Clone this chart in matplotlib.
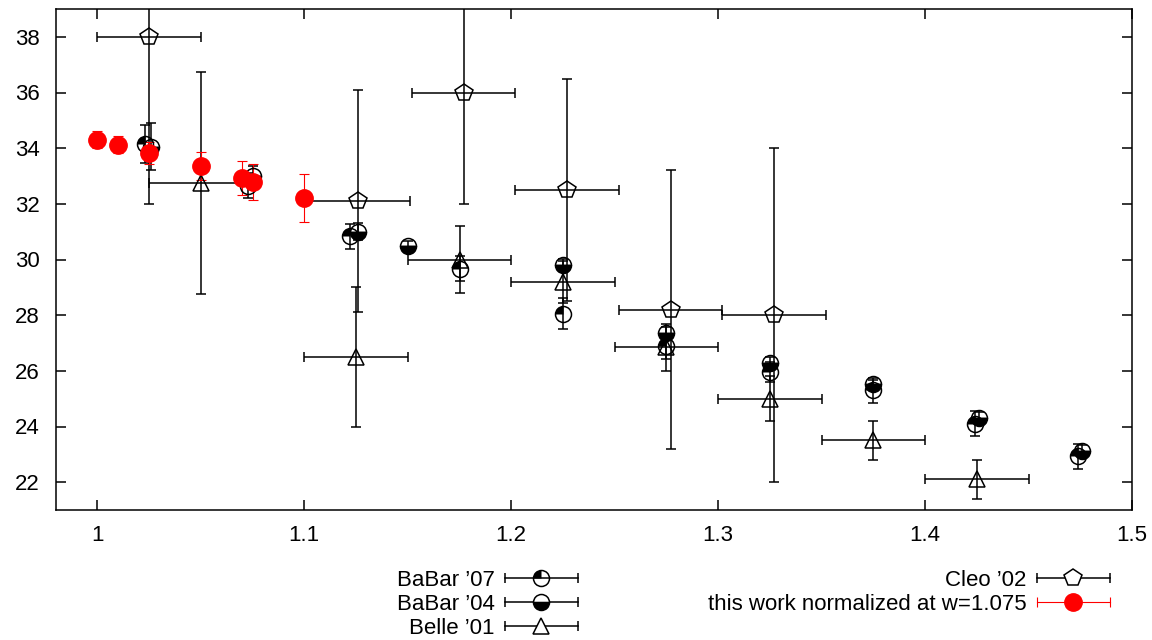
import matplotlib
matplotlib.use("Agg")
import matplotlib.pyplot as plt
from matplotlib.path import Path
from matplotlib.lines import Line2D
from matplotlib.legend_handler import HandlerLine2D

plt.rcParams['font.family'] = ['Liberation Sans', 'DejaVu Sans']

# BaBar '07
babar07_x = [1.023, 1.073, 1.122, 1.175, 1.225, 1.275, 1.325, 1.375, 1.424, 1.474]
babar07_y = [34.15, 32.65, 30.83, 29.67, 28.05, 26.88, 25.96, 25.3, 24.1, 22.93]
babar07_err = [0.7, 0.45, 0.45, 0.45, 0.55, 0.45, 0.35, 0.45, 0.45, 0.45]
# BaBar '04
babar04_x = [1.026, 1.075, 1.126, 1.15, 1.225, 1.275, 1.325, 1.375, 1.426, 1.476]
babar04_y = [34.05, 33.0, 31.0, 30.47, 29.81, 27.37, 26.28, 25.52, 24.32, 23.12]
babar04_err = [0.85, 0.35, 0.3, 0.2, 0.2, 0.2, 0.2, 0.15, 0.2, 0.2]
# Belle '01
belle_x = [1.05, 1.125, 1.175, 1.225, 1.275, 1.325, 1.375, 1.425]
belle_y = [32.75, 26.5, 30.0, 29.2, 26.85, 25.0, 23.5, 22.1]
belle_yerr = [4.0, 2.5, 1.2, 0.75, 0.85, 0.8, 0.7, 0.7]
belle_xerr = [0.025] * 8
# Cleo '02
cleo_x = [1.025, 1.126, 1.177, 1.227, 1.277, 1.327]
cleo_y = [38.0, 32.1, 36.0, 32.5, 28.2, 28.0]
cleo_yerr = [6.0, 4.0, 4.0, 4.0, 5.0, 6.0]
cleo_xerr = [0.025] * 6
# this work
work_x = [1.0, 1.01, 1.025, 1.05, 1.07, 1.075, 1.1]
work_y = [34.3, 34.12, 33.83, 33.35, 32.92, 32.77, 32.2]
work_err = [0.3, 0.3, 0.4, 0.5, 0.62, 0.65, 0.87]

labels = ["BaBar \u201907", "BaBar \u201904", "Belle \u201901", "Cleo \u201902",
          "this work normalized at w=1.075"]
xticks = [1.0, 1.1, 1.2, 1.3, 1.4, 1.5]
xticklabels = ["1", "1.1", "1.2", "1.3", "1.4", "1.5"]
yticks = [22, 24, 26, 28, 30, 32, 34, 36, 38]

fs = 16
ms = 11.5
lw = 1.1
quarter = Path.wedge(90, 180)  # top-left quarter of the circle

fig = plt.figure(figsize=(11.52, 6.4), dpi=100)
ax = fig.add_axes([56 / 1152, 130 / 640, 1076 / 1152, 501 / 640])

eb = dict(ecolor='k', elinewidth=lw, capsize=3.6, capthick=lw, mew=lw)

ax.errorbar(babar07_x, babar07_y, yerr=babar07_err, fmt='o', ms=ms, mfc='none',
            mec='k', **eb)
ax.plot(babar07_x, babar07_y, ls='none', marker=quarter, ms=ms, mfc='k', mec='k', mew=0)

ax.errorbar(babar04_x, babar04_y, yerr=babar04_err, fmt='o', ms=ms, mec='k', mfc='k',
            fillstyle='bottom', markerfacecoloralt='none', **eb)

ax.errorbar(belle_x, belle_y, yerr=belle_yerr, xerr=belle_xerr, fmt='^', ms=ms,
            mfc='none', mec='k', **eb)

ax.errorbar(cleo_x, cleo_y, yerr=cleo_yerr, xerr=cleo_xerr, fmt='p', ms=13,
            mfc='none', mec='k', **eb)

ax.errorbar(work_x, work_y, yerr=work_err, fmt='o', color='red', ms=12.5,
            ecolor='red', elinewidth=0.8, capsize=3.6, capthick=0.8)

ax.set_xlim(0.98, 1.5)
ax.set_ylim(21, 39)
ax.set_xticks(xticks)
ax.set_xticklabels(xticklabels)
ax.set_yticks(yticks)
ax.tick_params(direction='in', length=7.2, width=lw, top=True, right=True,
               labelsize=fs)
ax.tick_params(axis='x', pad=11)
ax.tick_params(axis='y', pad=11.5)
for s in ax.spines.values():
    s.set_linewidth(lw)

# legend keys in gnuplot style: |--marker--|
bar_k = Line2D([], [], color='k', lw=lw, marker='|', ms=7, mew=lw)
bar_r = Line2D([], [], color='red', lw=0.8, marker='|', ms=7, mew=0.8)
hmap = {bar_k: HandlerLine2D(numpoints=2, marker_pad=0),
        bar_r: HandlerLine2D(numpoints=2, marker_pad=0)}

m07a = Line2D([], [], ls='none', marker='o', ms=ms, mfc='none', mec='k', mew=lw)
m07b = Line2D([], [], ls='none', marker=quarter, ms=ms, mfc='k', mew=0)
m04 = Line2D([], [], ls='none', marker='o', ms=ms, mec='k', mfc='k', mew=lw,
             fillstyle='bottom', markerfacecoloralt='white')
mbe = Line2D([], [], ls='none', marker='^', ms=ms, mfc='white', mec='k', mew=lw)
mcl = Line2D([], [], ls='none', marker='p', ms=13, mfc='white', mec='k', mew=lw)
mwk = Line2D([], [], ls='none', marker='o', ms=12.5, color='red')

leg_kw = dict(loc='upper right', frameon=False, markerfirst=False, fontsize=fs,
              borderpad=0, borderaxespad=0, handlelength=3.3, handletextpad=0.45,
              labelspacing=0.14, handler_map=hmap)

fig.legend([(bar_k, m07a, m07b), (bar_k, m04), (bar_k, mbe)], labels[:3],
           bbox_to_anchor=(578 / 1152, 70 / 640), **leg_kw)
fig.legend([(bar_k, mcl), (bar_r, mwk)], labels[3:],
           bbox_to_anchor=(1110 / 1152, 70 / 640), **leg_kw)

fig.savefig("out.png", dpi=100)
